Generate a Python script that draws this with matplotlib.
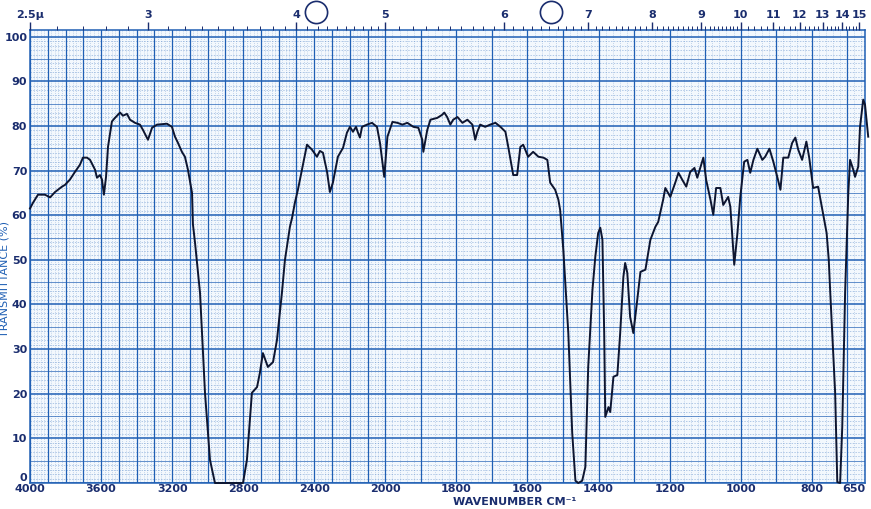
import numpy as np
import matplotlib
matplotlib.use('Agg')
import matplotlib.pyplot as plt
from matplotlib.ticker import FixedLocator, FixedFormatter, NullFormatter

# IR spectrum (wavenumber in cm-1, transmittance in %)
wavenumber = [
    4000, 3983, 3955, 3916, 3887, 3859, 3820, 3803, 3775, 3747, 3719, 3702,
    3679, 3662, 3634, 3623, 3606, 3595, 3584, 3572, 3561, 3539, 3522, 3493,
    3477, 3454, 3437, 3409, 3381, 3364, 3336, 3313, 3285, 3229, 3201, 3184,
    3167, 3145, 3128, 3111, 3088, 3083, 3071, 3043, 3015, 2987, 2959, 2801,
    2779, 2751, 2722, 2706, 2689, 2661, 2632, 2610, 2582, 2565, 2537, 2525,
    2509, 2492, 2469, 2441, 2413, 2385, 2368, 2351, 2328, 2312, 2295, 2267,
    2238, 2216, 2199, 2182, 2165, 2154, 2143, 2131, 2103, 2075, 2047, 2030,
    2006, 1994, 1980, 1966, 1952, 1938, 1921, 1907, 1896, 1893, 1882, 1873,
    1854, 1840, 1834, 1826, 1817, 1809, 1797, 1783, 1769, 1755, 1747, 1741,
    1733, 1719, 1705, 1690, 1676, 1662, 1654, 1640, 1629, 1620, 1612, 1598,
    1584, 1569, 1555, 1544, 1536, 1522, 1513, 1508, 1499, 1485, 1474, 1465,
    1457, 1446, 1437, 1429, 1417, 1409, 1401, 1395, 1389, 1384, 1381, 1372,
    1367, 1358, 1347, 1339, 1330, 1325, 1319, 1311, 1302, 1291, 1282, 1268,
    1254, 1240, 1232, 1218, 1212, 1198, 1184, 1175, 1164, 1153, 1142, 1130,
    1122, 1105, 1097, 1085, 1077, 1069, 1057, 1049, 1035, 1029, 1018, 1009,
    1001, 990, 981, 973, 964, 953, 939, 931, 919, 908, 897, 888,
    880, 866, 855, 846, 838, 827, 815, 807, 796, 782, 770, 758,
    752, 748, 734, 728, 720, 714, 706, 697, 692, 683, 678, 669,
    664, 655, 650, 641,
]
transmittance = [
    61.5, 62.8, 64.6, 64.6, 64.0, 65.2, 66.4, 66.8, 68.0, 69.7, 71.3, 72.9,
    72.9, 72.4, 70.2, 68.4, 69.0, 68.0, 64.6, 68.6, 75.3, 81.0, 81.8, 83.0,
    82.3, 82.7, 81.4, 80.7, 80.3, 79.1, 76.9, 79.6, 80.3, 80.5, 79.8, 77.6,
    76.2, 74.2, 73.1, 70.2, 65.0, 58.0, 53.8, 42.6, 20.2, 5.2, 0.0, 0.0,
    5.2, 20.2, 21.5, 24.7, 29.1, 26.0, 27.1, 32.0, 42.6, 50.0, 57.4, 59.4,
    62.8, 65.7, 70.2, 75.8, 74.7, 73.1, 74.4, 74.0, 69.7, 65.2, 67.3, 73.1,
    75.1, 78.5, 79.8, 78.7, 79.8, 78.5, 77.4, 79.8, 80.3, 80.7, 79.8, 76.2,
    68.6, 77.6, 80.9, 80.7, 80.3, 80.7, 79.8, 79.6, 76.9, 74.2, 79.1, 81.4,
    81.8, 82.5, 83.0, 82.0, 80.3, 81.4, 82.0, 80.7, 81.4, 80.3, 76.9, 78.7,
    80.3, 79.8, 80.3, 80.7, 79.8, 78.7, 75.3, 69.0, 69.0, 75.3, 75.8, 73.1,
    74.2, 73.1, 72.9, 72.4, 67.3, 65.7, 63.5, 61.2, 52.2, 33.6, 11.2, 0.5,
    0.0, 0.5, 3.6, 26.0, 43.3, 50.7, 56.0, 57.2, 54.5, 33.6, 14.8, 17.0,
    15.9, 23.8, 24.2, 33.6, 46.2, 49.3, 47.1, 37.2, 33.6, 41.0, 47.3, 47.8,
    54.5, 57.4, 58.5, 63.5, 66.1, 64.1, 67.3, 69.5, 67.9, 66.4, 69.7, 70.6,
    68.4, 72.9, 67.9, 63.5, 60.1, 66.1, 66.1, 62.3, 64.1, 61.9, 48.9, 56.0,
    64.1, 72.0, 72.4, 69.5, 72.4, 74.9, 72.4, 73.1, 74.9, 72.0, 68.6, 65.7,
    72.9, 72.9, 76.2, 77.4, 74.7, 72.4, 76.5, 72.9, 66.1, 66.4, 61.2, 56.0,
    50.0, 43.0, 20.2, 0.2, 0.0, 12.6, 42.6, 65.0, 72.4, 70.2, 68.6, 70.9,
    79.8, 85.9, 84.8, 77.6,
]

wn_ticks = [4000, 3600, 3200, 2800, 2400, 2000, 1800, 1600, 1400, 1200, 1000, 800, 650]
micron_major = [2.5, 3, 4, 5, 6, 7, 8, 9, 10, 11, 12, 13, 14, 15]
micron_labels = ['2.5\u03bc', '3', '4', '5', '6', '7', '8', '9', '10', '11', '12', '13', '14', '15']
t_ticks = list(range(0, 101, 10))

BLUE = '#1f5fb4'
NAVY = '#1a2d6e'
PAPER = '#f3f8fd'


# the chart paper doubles the scale below 2000 cm-1
def fwd(w):
    w = np.asarray(w, dtype=float)
    return np.where(w >= 2000, w, 2 * w - 2000)


def inv(u):
    u = np.asarray(u, dtype=float)
    return np.where(u >= 2000, u, (u + 2000) / 2)


fig = plt.figure(figsize=(8.71, 5.09), dpi=100)
ax = fig.add_axes([30 / 871, 1 - 483 / 509, 835 / 871, 453 / 509])
ax.set_facecolor(PAPER)
ax.set_xscale('function', functions=(fwd, inv))
ax.set_xlim(4000, 650)
ax.set_ylim(0, 101.5)

# grid of the chart paper
for w in range(660, 4000, 20):
    if w % 100 == 0:
        continue
    ax.axvline(w, color=BLUE, lw=0.5, alpha=0.45, ls=(0, (1, 2)), zorder=1)
for w in range(700, 4001, 100):
    ax.axvline(w, color=BLUE, lw=0.9, zorder=1.5)
for t in np.arange(1, 101, 1):
    if t % 5 == 0:
        continue
    ax.axhline(t, color=BLUE, lw=0.5, alpha=0.45, ls=(0, (2, 2)), zorder=1)
for t in range(5, 101, 10):
    ax.axhline(t, color=BLUE, lw=0.6, alpha=0.8, zorder=1)
for t in range(0, 101, 10):
    ax.axhline(t, color=BLUE, lw=1.1, zorder=1.5)

ax.plot(wavenumber, transmittance, color='#0d1530', lw=1.4, zorder=3, clip_on=False)

for s in ax.spines.values():
    s.set_color(BLUE)
    s.set_linewidth(1.1)

ax.xaxis.set_major_locator(FixedLocator(wn_ticks))
ax.xaxis.set_major_formatter(FixedFormatter([str(w) for w in wn_ticks]))
ax.xaxis.set_minor_locator(FixedLocator([]))
ax.yaxis.set_major_locator(FixedLocator(t_ticks))
ax.tick_params(axis='x', length=0, labelsize=8, labelcolor=NAVY, pad=1)
ax.tick_params(axis='y', length=0, labelsize=8, labelcolor=NAVY, pad=2)
for lab in ax.get_xticklabels() + ax.get_yticklabels():
    lab.set_fontweight('bold')
ax.get_xticklabels()[-1].set_horizontalalignment('right')
ax.get_yticklabels()[0].set_verticalalignment('bottom')

ax.set_ylabel('TRANSMITTANCE (%)', color=BLUE, fontsize=8)
ax.yaxis.set_label_coords(-0.025, 0.45)
ax.text(1810, -3.2, 'WAVENUMBER CM\u207b\u00b9', ha='left', va='top',
        color=NAVY, fontsize=8, fontweight='bold')

# micron scale on top
top = ax.twiny()
top.set_xscale('function', functions=(fwd, inv))
top.set_xlim(4000, 650)
top.xaxis.set_major_locator(FixedLocator([1e4 / m for m in micron_major]))
top.xaxis.set_major_formatter(FixedFormatter(micron_labels))
minor_m = [round(m, 2) for m in np.arange(2.6, 10.0, 0.1) if abs(m - round(m)) > 1e-6]
minor_m += [round(m, 2) for m in np.arange(10.2, 15.0, 0.2) if abs(m - round(m)) > 1e-6]
top.xaxis.set_minor_locator(FixedLocator([1e4 / m for m in minor_m]))
top.xaxis.set_minor_formatter(NullFormatter())
top.tick_params(axis='x', which='major', length=6, width=1, color=NAVY,
                labelsize=8, labelcolor=NAVY, pad=1)
top.tick_params(axis='x', which='minor', length=3, width=0.7, color=NAVY)
for lab in top.get_xticklabels():
    lab.set_fontweight('bold')
for s in top.spines.values():
    s.set_visible(False)

# punched holes of the chart sheet
for w in [2390, 1533]:
    top.plot([w], [1.04], marker='o', ms=16, mfc='white', mec=NAVY, mew=1.2,
             transform=top.get_xaxis_transform(), clip_on=False)

fig.savefig('out.png', dpi=100, facecolor='white')
